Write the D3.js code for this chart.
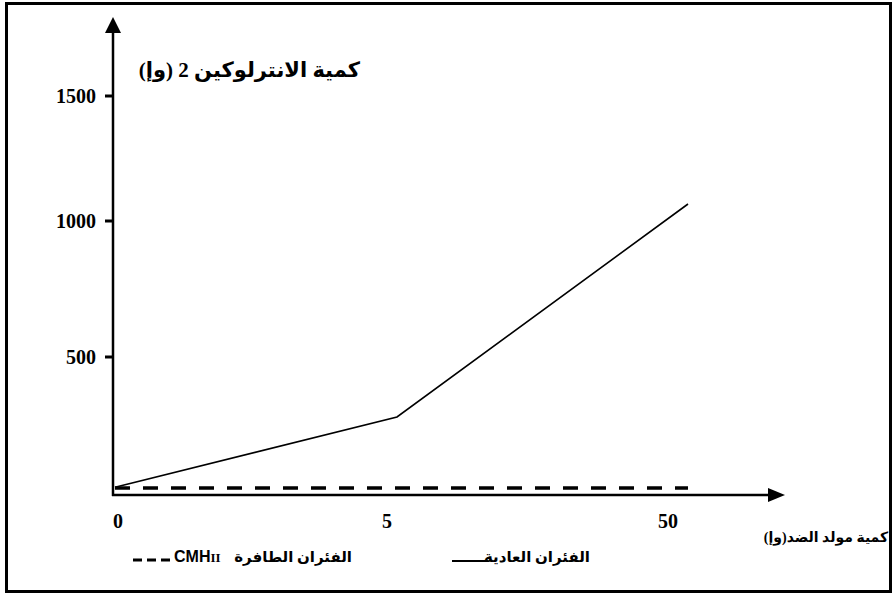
<!DOCTYPE html>
<html>
<head>
<meta charset="utf-8">
<script src="https://cdn.jsdelivr.net/npm/d3@7"></script>
<style>
  body { margin: 0; background: #fff; }
  svg text { font-family: "Liberation Serif", "DejaVu Sans", serif; font-weight: bold; fill: #000; }
</style>
</head>
<body>
<div id="chart"></div>
<script>
// data
var doses = ['0', '5', '50'];
var normalMice = [3, 271, 1068];
var mutantMice = [0, 0, 0];
var yTicks = [500, 1000, 1500];

var yTitle = 'كمية الانترلوكين 2 (وإ)';
var xTitle = 'كمية مولد الضد(وإ)';
var normalLabel = 'الفئران العادية';
var mutantLabel = 'الفئران الطافرة';

var W = 895, H = 597;

var svg = d3.select('#chart').append('svg')
  .attr('width', W).attr('height', H);

// frame
svg.append('rect')
  .attr('x', 6.5).attr('y', 3.5)
  .attr('width', 884).attr('height', 588)
  .attr('fill', 'none').attr('stroke', '#000').attr('stroke-width', 3);

// hand drawn axes: not quite even, so piecewise scales
var x = d3.scaleLinear().domain([0, 5, 50]).range([115, 397, 688]);
var y = d3.scaleLinear().domain([0, 500, 1000, 1500]).range([488, 357, 221, 96]);

var ax0 = 113, ay0 = 495;

// y axis with arrow
svg.append('line')
  .attr('x1', ax0).attr('y1', ay0 + 1).attr('x2', ax0).attr('y2', 30)
  .attr('stroke', '#000').attr('stroke-width', 2.5);
svg.append('path')
  .attr('d', 'M' + ax0 + ',17 L' + (ax0 - 8) + ',33 L' + (ax0 + 8) + ',33 Z')
  .attr('fill', '#000');

// x axis with arrow
svg.append('line')
  .attr('x1', ax0 - 1).attr('y1', ay0).attr('x2', 772).attr('y2', ay0)
  .attr('stroke', '#000').attr('stroke-width', 2.5);
svg.append('path')
  .attr('d', 'M785,' + ay0 + ' L768,' + (ay0 - 7) + ' L768,' + (ay0 + 7) + ' Z')
  .attr('fill', '#000');

// y ticks
var yt = svg.append('g').selectAll('g').data(yTicks).join('g')
  .attr('transform', function(d){ return 'translate(0,' + y(d) + ')'; });
yt.append('line')
  .attr('x1', ax0 - 8).attr('x2', ax0)
  .attr('stroke', '#000').attr('stroke-width', 3);
yt.append('text')
  .attr('x', 96).attr('dy', '0.35em')
  .attr('text-anchor', 'end')
  .style('font-size', '20px')
  .text(function(d){ return d; });

// x tick labels (the picture sets them a bit off the points)
var labelDx = [3, -10, -20];
svg.append('g').selectAll('text').data(doses).join('text')
  .attr('x', function(d, i){ return x(+d) + labelDx[i]; })
  .attr('y', 528)
  .attr('text-anchor', 'middle')
  .style('font-size', '20px')
  .text(function(d){ return d; });

// series
var line = d3.line()
  .x(function(d, i){ return x(+doses[i]); })
  .y(function(d){ return y(d); });

svg.append('path')
  .datum(normalMice)
  .attr('d', line)
  .attr('fill', 'none').attr('stroke', '#000').attr('stroke-width', 1.6);

svg.append('path')
  .datum(mutantMice)
  .attr('d', line)
  .attr('fill', 'none').attr('stroke', '#000').attr('stroke-width', 3.5)
  .attr('stroke-dasharray', '15,13');

// titles (rtl, so "start" is the right edge)
svg.append('text')
  .attr('x', 360).attr('y', 77)
  .attr('direction', 'rtl')
  .attr('text-anchor', 'start')
  .style('font-size', '21px')
  .text(yTitle);

// x title sits against the frame
svg.append('text')
  .attr('x', 826).attr('y', 542)
  .attr('direction', 'rtl')
  .attr('text-anchor', 'middle')
  .style('font-size', '14px')
  .text(xTitle);

// legend
var lg = svg.append('g');
lg.append('line')
  .attr('x1', 133).attr('x2', 170).attr('y1', 560).attr('y2', 560)
  .attr('stroke', '#000').attr('stroke-width', 3)
  .attr('stroke-dasharray', '9,5');
var cmh = lg.append('text')
  .attr('x', 174).attr('y', 562)
  .style('font-size', '16px');
cmh.append('tspan').style('font-family', 'Liberation Sans').text('CMH');
cmh.append('tspan').style('font-size', '13px').text('II');
lg.append('text')
  .attr('x', 352).attr('y', 562)
  .attr('direction', 'rtl')
  .attr('text-anchor', 'start')
  .style('font-size', '15px')
  .text(mutantLabel);

lg.append('line')
  .attr('x1', 452).attr('x2', 488).attr('y1', 561).attr('y2', 561)
  .attr('stroke', '#000').attr('stroke-width', 2);
lg.append('text')
  .attr('x', 590).attr('y', 562)
  .attr('direction', 'rtl')
  .attr('text-anchor', 'start')
  .style('font-size', '15px')
  .text(normalLabel);
</script>
</body>
</html>
